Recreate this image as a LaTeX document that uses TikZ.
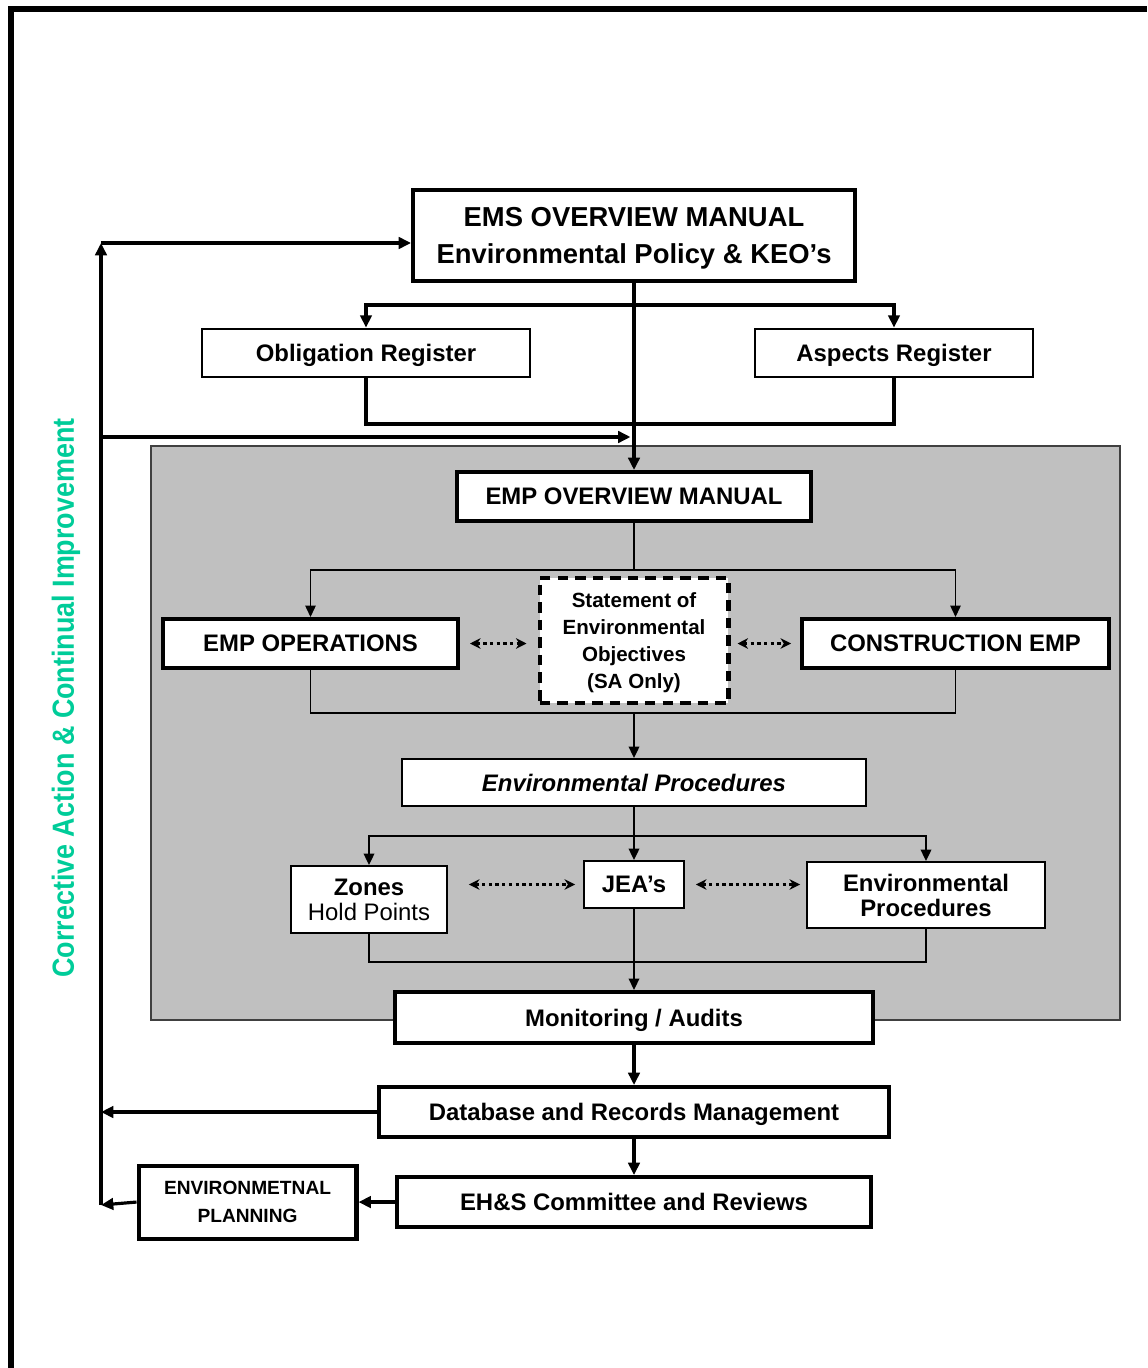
\documentclass[tikz,border=0pt]{standalone}
\usepackage{fontspec}
\setmainfont{Liberation Sans}
\newfontfamily\narrowsans[FakeStretch=0.88]{Liberation Sans}
\usepackage{xcolor}
\definecolor{emsgreen}{HTML}{00CC99}
\definecolor{emsgrey}{HTML}{C0C0C0}
\usepackage{tikz}
\usetikzlibrary{arrows.meta, positioning}

\newcommand{\boxfont}{\fontsize{13.6pt}{14.4pt}\selectfont\bfseries}
\newcommand{\emsfont}{\fontsize{15.6pt}{21pt}\selectfont\bfseries}
\newcommand{\seofont}{\fontsize{11.7pt}{15.4pt}\selectfont\bfseries}
\newcommand{\planfont}{\fontsize{10.9pt}{15.9pt}\selectfont\bfseries}
\newcommand{\greenfont}{\narrowsans\fontsize{17.4pt}{20pt}\selectfont\bfseries}

\begin{document}
\begin{tikzpicture}[
  x=0.02cm, y=-0.02cm,
  box/.style={rectangle, draw, fill=white, inner sep=0pt, align=center,
    text depth=0pt, font=\boxfont},
  heavybox/.style={box, line width=2.3pt},
  regbox/.style={box, line width=1.6pt},
  lightbox/.style={box, line width=1.1pt},
  arrow/.style={-{Triangle[length=7pt, width=6.5pt]}, line width=1.8pt},
  thinarrow/.style={-{Triangle[length=6.5pt, width=6pt]}, line width=0.6pt},
  procarrow/.style={-{Triangle[length=6.5pt, width=6pt]}, line width=1pt},
  dotarrow/.style={{Stealth[length=6pt, width=6pt]}-{Stealth[length=6pt, width=6pt]},
    line width=1.9pt, dash pattern=on 1.9pt off 1.9pt}
]
\useasboundingbox (0,0) rectangle (1147,1368);

% page frame and EMP area
\draw[line width=3.4pt] (11,1368) |- (1147,9);
\draw[fill=emsgrey, draw=black!75, line width=0.8pt] (151,446) rectangle (1120,1020);

\node[heavybox, minimum width=8.84cm, minimum height=1.82cm, font=\emsfont] (emsman)
  at (634,235.5) {EMS OVERVIEW MANUAL\\Environmental Policy \& KEO’s};
\node[regbox, minimum width=6.56cm, minimum height=0.96cm] (oblig)
  at (366,353) {Obligation Register};
\node[regbox, minimum width=5.56cm, minimum height=0.96cm] (aspects)
  at (894,353) {Aspects Register};

\node[heavybox, minimum width=7.1cm, minimum height=0.98cm] (empman)
  at (634,496.5) {EMP OVERVIEW MANUAL};
\node[heavybox, minimum width=5.9cm, minimum height=0.98cm] (empops)
  at (310.5,643.5) {EMP OPERATIONS};
\node[heavybox, minimum width=6.14cm, minimum height=0.98cm] (constr)
  at (955.5,643.5) {CONSTRUCTION EMP};
\node[heavybox, dash pattern=on 6pt off 4pt, minimum width=3.78cm, minimum height=2.5cm,
  font=\seofont] (seo)
  at (634,640.5) {Statement of\\Environmental\\Objectives\\(SA Only)};

\node[lightbox, minimum width=9.28cm, minimum height=0.94cm, font=\boxfont\itshape] (envproc)
  at (634,782.5) {Environmental Procedures};
\node[lightbox, minimum width=3.12cm, minimum height=1.34cm, font=\boxfont\mdseries] (zones)
  at (369,899.5) {\textbf{Zones}\\Hold Points};
\node[lightbox, minimum width=2.0cm, minimum height=0.94cm] (jea)
  at (634,884.5) {JEA’s};
\node[lightbox, minimum width=4.76cm, minimum height=1.32cm] (envproc2)
  at (926,895) {Environmental\\Procedures};

\node[heavybox, minimum width=9.58cm, minimum height=1.02cm] (monitor)
  at (634,1017.5) {Monitoring / Audits};
\node[heavybox, minimum width=10.22cm, minimum height=1.0cm, below=0.8cm of monitor] (dbase)
  {Database and Records Management};
\node[heavybox, minimum width=9.5cm, minimum height=1.0cm, below=0.72cm of dbase] (ehs)
  {EH\&S Committee and Reviews};
\node[heavybox, minimum width=4.36cm, minimum height=1.46cm, font=\planfont,
  left=0.72cm of ehs] (plan) {ENVIRONMETNAL\\PLANNING};

\node[rotate=90, text=emsgreen, font=\greenfont] (capi)
  at (66,698) {Corrective Action \& Continual Improvement};

\coordinate (fbtop) at (101,243);
\coordinate (fbmid) at (101,437);
\coordinate (fbbot) at (101,1205);
\coordinate (regsplit) at (634,305);
\coordinate (regjoin) at (634,424);
\coordinate (empsplit) at (634,570);
\coordinate (empjoin) at (634,713);
\coordinate (procsplit) at (634,836);
\coordinate (procjoin) at (634,962);

\draw[arrow, line width=2.3pt] (emsman) -- (empman);
\draw[arrow] (regsplit) -| (oblig.north);
\draw[arrow] (regsplit) -| (aspects.north);
\draw[line width=1.8pt] (oblig.south) |- (regjoin) -| (aspects.south);

\draw[arrow] (fbbot) -- (fbtop);
\draw[arrow] (fbtop) -- (fbtop -| emsman.west);
\draw[arrow, shorten >=2pt] (fbmid) -- (fbmid -| emsman.south);
\draw[arrow] (dbase.west) -- (dbase.west -| fbtop);
\draw[arrow] (plan.west) -- (fbbot);
\draw[arrow] (ehs) -- (plan);
\draw[arrow] (monitor) -- (dbase);
\draw[arrow] (dbase) -- (ehs);

\draw[line width=0.6pt] (empman) -- (empsplit);
\draw[thinarrow] (empsplit) -| (empops.north);
\draw[thinarrow] (empsplit) -| (constr.north);
\draw[line width=0.6pt] (empops.south) |- (empjoin) -| (constr.south);
\draw[procarrow] (empjoin) -- (envproc);
\draw[dotarrow, shorten <=0.2cm, shorten >=0.22cm] (empops.east) -- (empops.east -| seo.west);
\draw[dotarrow, shorten <=0.14cm, shorten >=0.18cm] (seo.east |- constr.west) -- (constr.west);

\draw[line width=1pt] (envproc) -- (procsplit);
\draw[procarrow] (procsplit) -| (zones.north);
\draw[procarrow] (procsplit) -| (envproc2.north);
\draw[procarrow] (procsplit) -- (jea.north);
\draw[line width=1pt] (zones.south) |- (procjoin);
\draw[line width=1pt] (envproc2.south) |- (procjoin);
\draw[procarrow] (jea) -- (monitor);
\draw[dotarrow, shorten <=0.42cm, shorten >=0.16cm] (jea.west -| zones.east) -- (jea.west);
\draw[dotarrow, shorten <=0.22cm, shorten >=0.12cm] (jea.east) -- (jea.east -| envproc2.west);
\end{tikzpicture}
\end{document}
